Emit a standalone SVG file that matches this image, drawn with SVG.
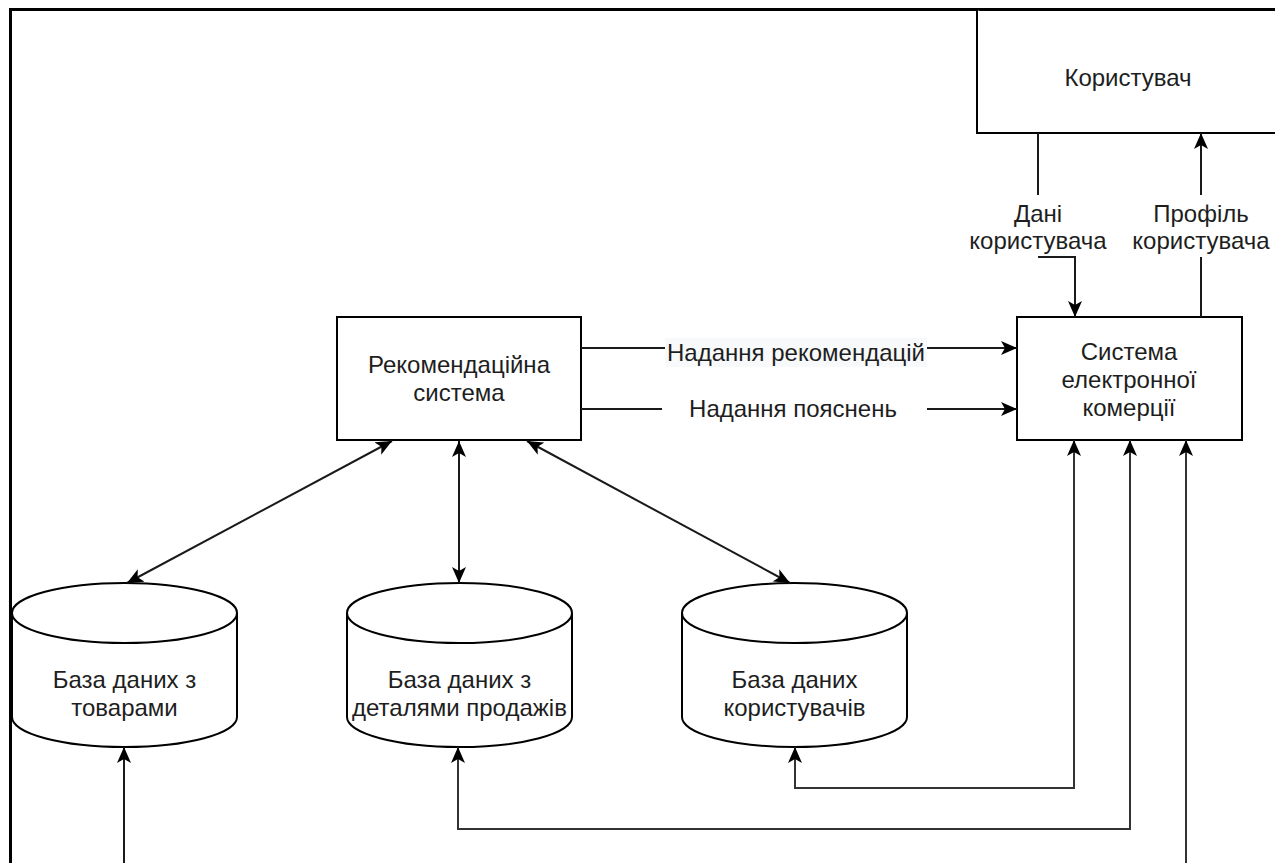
<svg xmlns="http://www.w3.org/2000/svg" width="1275" height="863" viewBox="0 0 1275 863">
<style>
  .box{fill:#fff;stroke:#000;stroke-width:2}
  .cyl{fill:#fff;stroke:#000;stroke-width:2}
  .t{font-family:"Liberation Sans",Arial,sans-serif;font-size:24px;fill:#1e1e1e;text-anchor:middle}
  .c{fill:none;stroke:#1a1a1a;stroke-width:2}
  .g{fill:none;stroke:#333;stroke-width:2}
</style>
<defs>
  <marker id="ar" viewBox="0 0 16 14" refX="16" refY="7" markerWidth="16" markerHeight="14" markerUnits="userSpaceOnUse" orient="auto-start-reverse">
    <path d="M0,0 L16,7 L0,14 L4,7 Z" fill="#000"/>
  </marker>
</defs>
<rect x="0" y="0" width="1275" height="863" fill="#fff"/>
<path d="M10.5,863 V9.5 H1275" fill="none" stroke="#000" stroke-width="3"/>

<g id="user">
  <path class="box" d="M1276,133 H977 V10"/>
  <text class="t" x="1128" y="86">Користувач</text>
</g>
<g id="ecommerce">
  <rect class="box" x="1017" y="317" width="225" height="123"/>
  <text class="t" x="1129" y="360">Система</text>
  <text class="t" x="1129" y="388">електронної</text>
  <text class="t" x="1129" y="416">комерції</text>
</g>
<g id="recsys">
  <rect class="box" x="337" y="317" width="244" height="123"/>
  <text class="t" x="459" y="373">Рекомендаційна</text>
  <text class="t" x="459" y="401">система</text>
</g>
<g id="db-products">
  <path class="cyl" d="M12,613 A112.5,30 0 0 1 237,613 V717 A112.5,30 0 0 1 12,717 Z"/>
  <path class="cyl" d="M12,613 A112.5,30 0 0 0 237,613"/>
  <text class="t" x="124.5" y="688">База даних з</text>
  <text class="t" x="124.5" y="716">товарами</text>
</g>
<g id="db-sales">
  <path class="cyl" d="M347,613 A112.5,30 0 0 1 572,613 V717 A112.5,30 0 0 1 347,717 Z"/>
  <path class="cyl" d="M347,613 A112.5,30 0 0 0 572,613"/>
  <text class="t" x="459.5" y="688">База даних з</text>
  <text class="t" x="459.5" y="716">деталями продажів</text>
</g>
<g id="db-users">
  <path class="cyl" d="M682,613 A112.5,30 0 0 1 907,613 V717 A112.5,30 0 0 1 682,717 Z"/>
  <path class="cyl" d="M682,613 A112.5,30 0 0 0 907,613"/>
  <text class="t" x="794.5" y="688">База даних</text>
  <text class="t" x="794.5" y="716">користувачів</text>
</g>

<g id="connectors">
  <path class="c" d="M1038,133 V195 M1038,257 H1075 V317" marker-end="url(#ar)"/>
  <text class="t" x="1038" y="222">Дані</text>
  <text class="t" x="1038" y="249">користувача</text>
  <path class="c" d="M1201,317 V257 M1201,195 V133" marker-end="url(#ar)"/>
  <text class="t" x="1201" y="222">Профіль</text>
  <text class="t" x="1201" y="249">користувача</text>

  <path class="c" d="M581,348 H1017" marker-end="url(#ar)"/>
  <rect x="665" y="338" width="262" height="29" fill="#f8f9fa"/>
  <text class="t" x="796" y="361">Надання рекомендацій</text>
  <path class="c" d="M581,409 H662 M927,409 H1017" marker-end="url(#ar)"/>
  <text class="t" x="793" y="417">Надання пояснень</text>

  <path class="c" d="M392,441 L127,583" marker-start="url(#ar)" marker-end="url(#ar)"/>
  <path class="c" d="M459,441 V583" marker-start="url(#ar)" marker-end="url(#ar)"/>
  <path class="c" d="M527,441 L790,583" marker-start="url(#ar)" marker-end="url(#ar)"/>

  <path class="g" d="M795,747 V788 H1074 V440" marker-start="url(#ar)" marker-end="url(#ar)"/>
  <path class="g" d="M458,747 V829 H1130 V440" marker-start="url(#ar)" marker-end="url(#ar)"/>
  <path class="g" d="M1186,863 V440" marker-end="url(#ar)"/>
  <path class="c" d="M124,863 V747" marker-end="url(#ar)"/>
</g>
</svg>
